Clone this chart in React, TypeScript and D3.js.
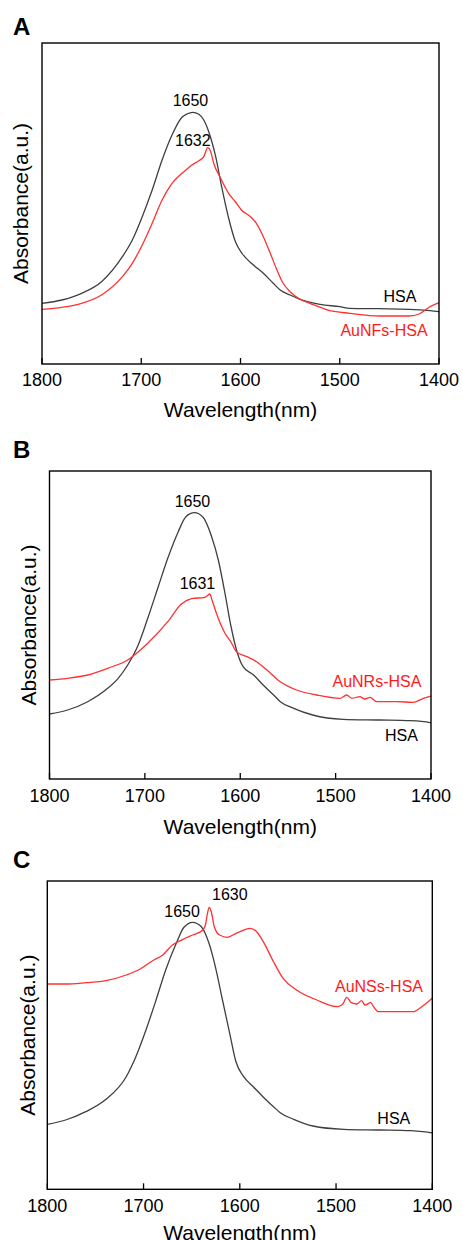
import React from "react";
import * as d3 from "d3";

// Wavelength (nm) / absorbance (a.u.) pairs
const A_HSA: [number, number][] = [[1800,60.7],[1780,64],[1760,70.7],[1740,82.3],[1719,107.3],[1709,124],[1699,147.3],[1689,174],[1679,204],[1669,229],[1659,246.7],[1654,250],[1648,251.7],[1642,249.7],[1637,244],[1632,232.3],[1625,207.3],[1619,177.3],[1612,146],[1605,122],[1598,110],[1587,99],[1577,90.7],[1567,80.7],[1560,74],[1550,69],[1540,64.7],[1520,59.7],[1500,57.3],[1490,55.7],[1460,55.3],[1430,54.7],[1409,53.3],[1400,52.3]];
const A_AUNFS: [number, number][] = [[1800,54.7],[1780,56.7],[1760,60.7],[1740,69],[1719,87.3],[1709,100.7],[1699,119],[1689,140.7],[1679,164],[1669,180.7],[1659,190.7],[1655,194],[1649,199],[1642,203.3],[1637,207.3],[1633,216.3],[1630,212.3],[1627,200.7],[1620,185.7],[1612,170.7],[1605,162],[1599,154],[1590,147.3],[1584,140.7],[1577,127.3],[1570,110.7],[1564,95.7],[1558,82.3],[1550,72.3],[1540,64.7],[1530,60.7],[1510,53.3],[1490,50.7],[1460,48],[1430,48],[1420,50],[1410,56.7],[1400,61.3]];

const B_HSA: [number, number][] = [[1800,65],[1781,69],[1760,77.3],[1739,90.7],[1728,100.7],[1718,114],[1707,134],[1697,160.7],[1686,192.3],[1676,220.7],[1665,247.3],[1657,262.3],[1648,266.3],[1639,261.7],[1630,242.3],[1623,219],[1616,185.7],[1610,154],[1603,126],[1597,112.3],[1586,104],[1576,94],[1565,84],[1558,77.3],[1544,70.7],[1524,64],[1492,59.7],[1454,59],[1422,58.3],[1401,56.3],[1400,56]];
const B_AUNRS: [number, number][] = [[1800,99],[1781,100.7],[1760,104],[1739,110.7],[1718,119],[1697,135.7],[1676,157.3],[1662,174.7],[1651,180.3],[1637,181.7],[1634.5,183.3],[1632,185],[1629.6,179],[1625,165.7],[1616,145.7],[1610,137.3],[1604,127.3],[1593,122.3],[1583,117.3],[1572,109],[1558,97.3],[1541,89],[1520,84],[1495.5,80.7],[1488.5,84],[1483,80.7],[1474.6,82.3],[1469.4,80],[1464,81.7],[1457,77.3],[1436,77.3],[1419,76.7],[1408,80.7],[1400,83]];

const C_HSA: [number, number][] = [[1800,65],[1781,69.3],[1760,77.6],[1739,90],[1718,112.6],[1708,132.6],[1697.5,159.3],[1687,189.3],[1677,219.3],[1666,246],[1658,262],[1649,267],[1640,262.6],[1632,246],[1625,221],[1618,189.3],[1610.5,156],[1604,127.5],[1596,112.6],[1586,102.6],[1576,92.6],[1565,82.6],[1558,76.6],[1544,70],[1524,63.3],[1492,60],[1454,59.3],[1423,58.6],[1400,56.5]];
const C_AUNSS: [number, number][] = [[1800,205.3],[1781,205.3],[1760,206.6],[1739,208.6],[1718,214.3],[1704,220],[1690.5,228.6],[1680,234.3],[1670,244.3],[1659,250],[1649,254.3],[1638.4,259.3],[1635.7,264.3],[1633.6,276],[1631.7,282],[1629.6,277.6],[1626.5,262.6],[1621,254.3],[1612.7,252],[1604,256],[1599.8,257.6],[1589.4,261],[1582.5,257.6],[1575.6,247.6],[1565,227.6],[1555,211],[1541,199.3],[1520,189.3],[1498,182.6],[1492.5,186],[1489,192],[1484,186.6],[1478.6,185.3],[1473.4,188.6],[1470,184.3],[1464,186.6],[1461,182.6],[1456,177.6],[1437,177.6],[1420,177.6],[1411,182.6],[1400,191]];

const X_TICKS = [1800, 1700, 1600, 1500, 1400];
const X_DOMAIN: [number, number] = [1800, 1400];

// annotations: text, wavelength, absorbance, kind
type Ann = { text: string; wl: number; val: number; red: boolean };
const A_LABELS: Ann[] = [
  { text: "1650", wl: 1650.4, val: 258, red: false },
  { text: "1632", wl: 1648, val: 218, red: false },
  { text: "HSA", wl: 1439.3, val: 62, red: false },
  { text: "AuNFs-HSA", wl: 1455.4, val: 28, red: true },
];
const B_LABELS: Ann[] = [
  { text: "1650", wl: 1650.1, val: 272.3, red: false },
  { text: "1631", wl: 1644.9, val: 190, red: false },
  { text: "AuNRs-HSA", wl: 1456.7, val: 92.3, red: true },
  { text: "HSA", wl: 1431, val: 38.3, red: false },
];
const C_LABELS: Ann[] = [
  { text: "1630", wl: 1610.4, val: 289.3, red: false },
  { text: "1650", wl: 1660, val: 272.3, red: false },
  { text: "AuNSs-HSA", wl: 1455.4, val: 197.6, red: true },
  { text: "HSA", wl: 1440, val: 65.3, red: false },
];

const FONT = "'Liberation Sans', Arial, Helvetica, sans-serif";
const BLACK_LINE = "#3f3f3f";
const RED_LINE = "#ff3030";
const RED_TEXT = "#ff1a1a";

type PanelProps = {
  letter: string;
  left: number; right: number; top: number; bottom: number;
  letterY: number; tickY: number; xlabY: number; ylabX: number;
  hsa: [number, number][]; au: [number, number][];
  labels: Ann[];
};

function Panel(p: PanelProps) {
  const x = d3.scaleLinear().domain(X_DOMAIN).range([p.left, p.right]);
  const h = p.bottom - p.top;
  const y = d3.scaleLinear().domain([0, h]).range([p.bottom, p.top]);
  const line = d3
    .line<[number, number]>()
    .x((d) => x(d[0]))
    .y((d) => y(d[1]))
    .curve(d3.curveMonotoneX);
  const cy = (p.top + p.bottom) / 2;
  const cx = (p.left + p.right) / 2;
  return (
    <g fontFamily={FONT}>
      <text x={13} y={p.letterY} fontSize={24} fontWeight="bold" fill="#000">{p.letter}</text>
      <path d={line(p.hsa) || ""} fill="none" stroke={BLACK_LINE} strokeWidth={1.3} />
      <path d={line(p.au) || ""} fill="none" stroke={RED_LINE} strokeWidth={1.3} />
      <rect x={p.left} y={p.top} width={p.right - p.left} height={h} fill="none" stroke="#000" strokeWidth={1.4} />
      {X_TICKS.map((t) => (
        <g key={t}>
          <line x1={x(t)} x2={x(t)} y1={p.bottom} y2={p.bottom - 6} stroke="#000" strokeWidth={1.3} />
          <text x={x(t)} y={p.tickY} fontSize={18} textAnchor="middle" fill="#000">{t}</text>
        </g>
      ))}
      <text x={cx} y={p.xlabY} fontSize={21} textAnchor="middle" fill="#000">Wavelength(nm)</text>
      <text transform={`translate(${p.ylabX},${cy}) rotate(-90)`} fontSize={21} textAnchor="middle" fill="#000">Absorbance(a.u.)</text>
      {p.labels.map((a, i) => (
        <text key={i} x={x(a.wl)} y={y(a.val)} fontSize={16} textAnchor="middle" fill={a.red ? RED_TEXT : "#000"}>{a.text}</text>
      ))}
    </g>
  );
}

export default function App() {
  return (
    <svg width={463} height={1240} style={{ position: "absolute", left: 0, top: 0, background: "#fff" }}>
      <rect x={0} y={0} width={463} height={1240} fill="#fff" />
      <Panel letter="A" left={42} right={439} top={43} bottom={364} letterY={35} tickY={386} xlabY={417} ylabX={28} hsa={A_HSA} au={A_AUNFS} labels={A_LABELS} />
      <Panel letter="B" left={49.5} right={431} top={471} bottom={779} letterY={458} tickY={802} xlabY={834} ylabX={36} hsa={B_HSA} au={B_AUNRS} labels={B_LABELS} />
      <Panel letter="C" left={47.3} right={432.3} top={881} bottom={1189.3} letterY={868} tickY={1212} xlabY={1240} ylabX={35} hsa={C_HSA} au={C_AUNSS} labels={C_LABELS} />
    </svg>
  );
}
